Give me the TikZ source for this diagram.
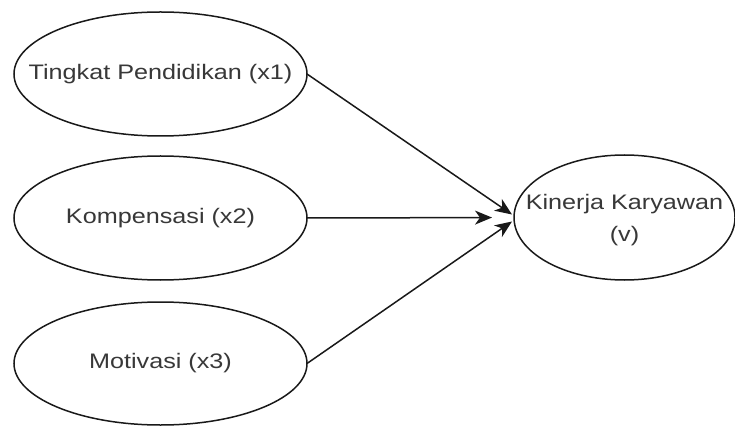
\documentclass[tikz,border=0pt]{standalone}
\usepackage{fontspec}
\setmainfont{Liberation Sans}
\usetikzlibrary{shapes.geometric,arrows.meta}
\newcommand\widetext[1]{\scalebox{1.2}[1]{#1}}
\tikzset{
  construct/.style={ellipse, draw=black!90, line width=1.5pt, fill=white,
    inner sep=0pt, outer sep=0pt},
  caption/.style={text=black!78, font=\fontsize{21}{32}\selectfont,
    align=center, inner sep=0pt},
  path/.style={draw=black!90, line width=1.5pt,
    -{Stealth[length=17pt,width=14pt,inset=5pt]}}
}
\begin{document}
\begin{tikzpicture}[x=1pt,y=-1pt]
  \useasboundingbox[fill=white] (0,0) rectangle (735,427);
  % exogenous constructs
  \node[construct, minimum width=293pt, minimum height=124pt,
    label={[caption]center:\widetext{Tingkat Pendidikan (x1)}}] (a) at (160.5,74) {};
  \node[construct, minimum width=293pt, minimum height=124pt,
    label={[caption]center:\widetext{Kompensasi (x2)}}] (b) at (160.5,218) {};
  \node[construct, minimum width=293pt, minimum height=123pt,
    label={[caption]center:\widetext{Motivasi (x3)}}] (c) at (160.5,363.5) {};
  % endogenous construct
  \node[construct, minimum width=221pt, minimum height=125pt,
    label={[caption, yshift=-3pt]center:\widetext{Kinerja Karyawan}\\\widetext{(v)}}]
    (d) at (624.5,217.5) {};
  % structural paths
  \draw[path] (a.east) -- ([shift={(-2pt,3pt)}]d.west);
  \draw[path, shorten >=22pt] (b.east) -- (d.west);
  \draw[path] (c.east) -- ([shift={(-2pt,-4pt)}]d.west);
\end{tikzpicture}
\end{document}
